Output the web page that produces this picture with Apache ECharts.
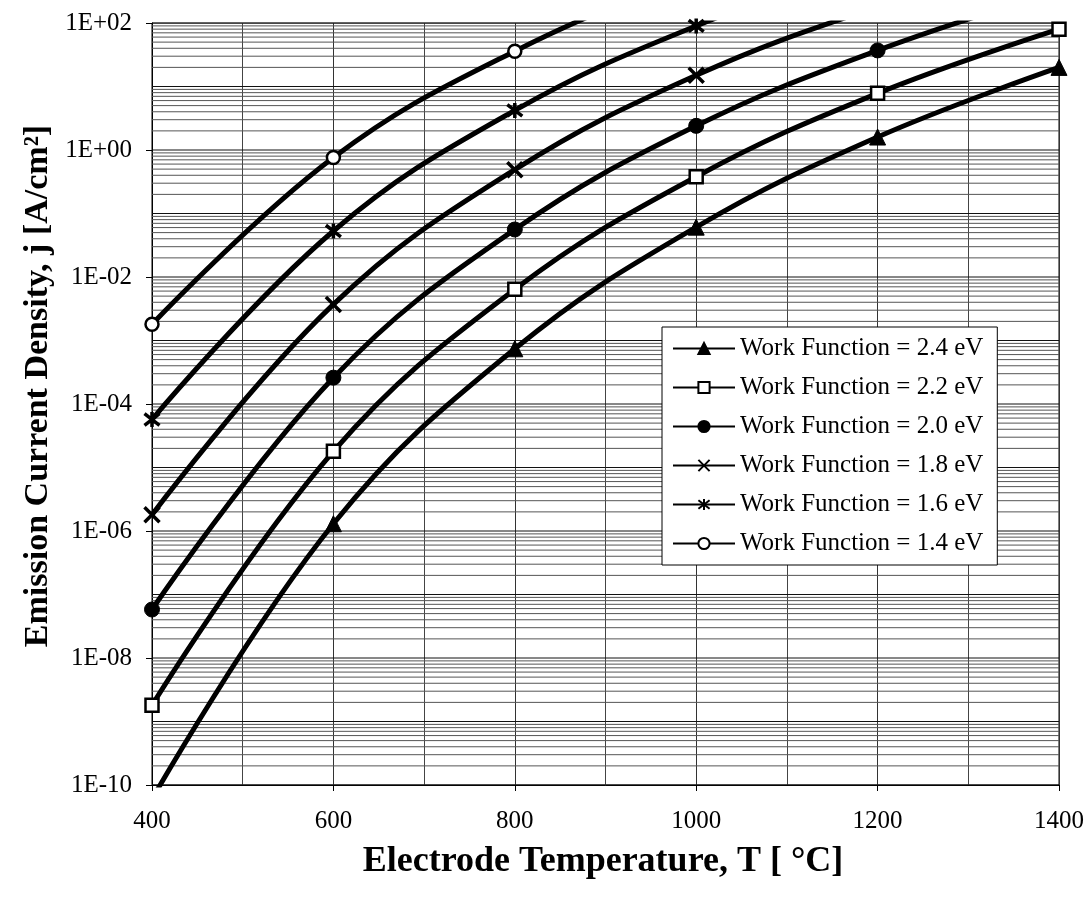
<!DOCTYPE html>
<html>
<head>
<meta charset="utf-8">
<title>Emission Current Density vs Electrode Temperature</title>
<script src="https://cdn.jsdelivr.net/npm/echarts@6/dist/echarts.min.js"></script>
<style>
  html, body { margin: 0; padding: 0; background: #fff; }
  #chart { width: 1092px; height: 900px; }
</style>
</head>
<body>
<div id="chart"></div>
<script>
// Electrode temperatures (°C) at which each curve is sampled
var temperatures = [400, 600, 800, 1000, 1200, 1400];

// Emission current density j [A/cm²] for each work function
var wf24 = [6e-11, 1.3e-6, 7.4e-4, 0.061, 1.6, 20];
var wf22 = [1.8e-9, 1.8e-5, 6.4e-3, 0.38, 7.8, 80];
var wf20 = [5.8e-8, 2.6e-4, 0.056, 2.4, 37, 320];
var wf18 = [1.8e-6, 3.7e-3, 0.49, 15, 180, 1300];
var wf16 = [5.7e-5, 0.053, 4.2, 90, 880, 5100];
var wf14 = [1.8e-3, 0.76, 36, 560, 4200, 20000];

var seriesNames = [
  'Work Function = 2.4 eV',
  'Work Function = 2.2 eV',
  'Work Function = 2.0 eV',
  'Work Function = 1.8 eV',
  'Work Function = 1.6 eV',
  'Work Function = 1.4 eV'
];

// Decades on the log axis (exponents) and mantissas of the minor grid lines
var decadeExponents = [-10, -9, -8, -7, -6, -5, -4, -3, -2, -1, 0, 1, 2];
var minorMantissas = [2, 3, 4, 5, 6, 7, 8, 9];

var X_MIN = 400, X_MAX = 1400;
var FONT = 'Liberation Serif';

function pairs(values) {
  return temperatures.map(function (t, i) { return [t, values[i]]; });
}

// Horizontal rules across the plot, one broken segment per value
function ruleData(values) {
  var d = [];
  values.forEach(function (v) {
    d.push([X_MIN, v], [X_MAX, v], [X_MAX, '-']);
  });
  return d;
}

var majorValues = decadeExponents.map(function (e) { return Math.pow(10, e); });
var minorValues = [];
decadeExponents.slice(0, -1).forEach(function (e) {
  minorMantissas.forEach(function (m) { minorValues.push(m * Math.pow(10, e)); });
});

function rules(name, values, color) {
  return {
    name: name,
    type: 'line',
    data: ruleData(values),
    z: 1,
    silent: true,
    symbol: 'none',
    connectNulls: false,
    lineStyle: { color: color, width: 1 },
    emphasis: { disabled: true }
  };
}

// Marker shapes
var crossPath = 'path://M0,0L10,10M10,0L0,10';
var starPath = 'path://M0,0L10,10M10,0L0,10M5,-1.5L5,11.5';

function curve(name, values, symbol, size, item) {
  return {
    name: name,
    type: 'line',
    data: pairs(values),
    smooth: 0.4,
    clip: true,
    z: 3,
    symbol: symbol,
    symbolSize: size,
    showAllSymbol: true,
    lineStyle: { color: '#000', width: 5 },
    itemStyle: item,
    emphasis: { disabled: true }
  };
}

var filled = { color: '#000', borderColor: '#000', borderWidth: 1 };
var hollow = { color: '#fff', borderColor: '#000', borderWidth: 2.5 };
var strokeOnly = { color: '#000', borderColor: '#000', borderWidth: 3.5 };

var option = {
  animation: false,
  backgroundColor: '#fff',
  grid: {
    left: 152, right: 33, top: 23, bottom: 115,
    show: true, borderColor: '#000', borderWidth: 1, backgroundColor: 'transparent'
  },
  legend: {
    data: seriesNames,
    orient: 'vertical',
    left: 662,
    top: 327,
    itemWidth: 62,
    itemHeight: 14,
    itemGap: 14,
    padding: [9, 14, 9, 10],
    backgroundColor: '#fff',
    borderColor: '#000',
    borderWidth: 1,
    borderRadius: 0,
    textStyle: { fontFamily: FONT, fontSize: 25, color: '#000' },
    inactiveColor: '#000'
  },
  xAxis: {
    type: 'value',
    min: X_MIN,
    max: X_MAX,
    interval: 200,
    axisLine: { show: true, lineStyle: { color: '#000', width: 1 } },
    axisTick: { show: true, inside: false, length: 6, lineStyle: { color: '#000' } },
    axisLabel: {
      fontFamily: FONT, fontSize: 25, color: '#000', margin: 24,
      formatter: function (v) { return String(v); }
    },
    splitLine: { show: true, lineStyle: { color: '#333', width: 1 } },
    minorTick: { show: false, splitNumber: 2 },
    minorSplitLine: { show: true, lineStyle: { color: '#444', width: 1 } }
  },
  yAxis: {
    type: 'log',
    logBase: 10,
    min: 1e-10,
    max: 100,
    interval: 2,
    axisLine: { show: true, onZero: false, lineStyle: { color: '#000', width: 1 } },
    axisTick: { show: true, inside: false, length: 6, lineStyle: { color: '#000' } },
    axisLabel: {
      fontFamily: FONT, fontSize: 25, color: '#000', margin: 20,
      formatter: function (v) {
        var e = Math.round(Math.log10(v));
        var s = e < 0 ? '-' : '+';
        var a = Math.abs(e);
        return '1E' + s + (a < 10 ? '0' + a : '' + a);
      }
    },
    splitLine: { show: false }
  },
  graphic: [
    {
      type: 'text',
      x: 38, y: 386,
      rotation: Math.PI / 2,
      style: {
        text: 'Emission Current Density, j [A/cm²]',
        fontFamily: FONT, fontSize: 34, fontWeight: 'bold', fill: '#000',
        textAlign: 'center', textVerticalAlign: 'middle'
      }
    },
    {
      type: 'text',
      x: 603, y: 862,
      style: {
        text: 'Electrode Temperature, T [ °C]',
        fontFamily: FONT, fontSize: 36, fontWeight: 'bold', fill: '#000',
        textAlign: 'center', textVerticalAlign: 'middle'
      }
    }
  ],
  series: [
    rules('minor rules', minorValues, '#555'),
    rules('major rules', majorValues, '#111'),
    curve(seriesNames[0], wf24, 'triangle', 16, filled),
    curve(seriesNames[1], wf22, 'rect', 13, hollow),
    curve(seriesNames[2], wf20, 'circle', 15, filled),
    curve(seriesNames[3], wf18, crossPath, 15, strokeOnly),
    curve(seriesNames[4], wf16, starPath, 15, strokeOnly),
    curve(seriesNames[5], wf14, 'circle', 13, hollow)
  ]
};

var chart = echarts.init(document.getElementById('chart'), null, { renderer: 'canvas' });
chart.setOption(option);
</script>
</body>
</html>
